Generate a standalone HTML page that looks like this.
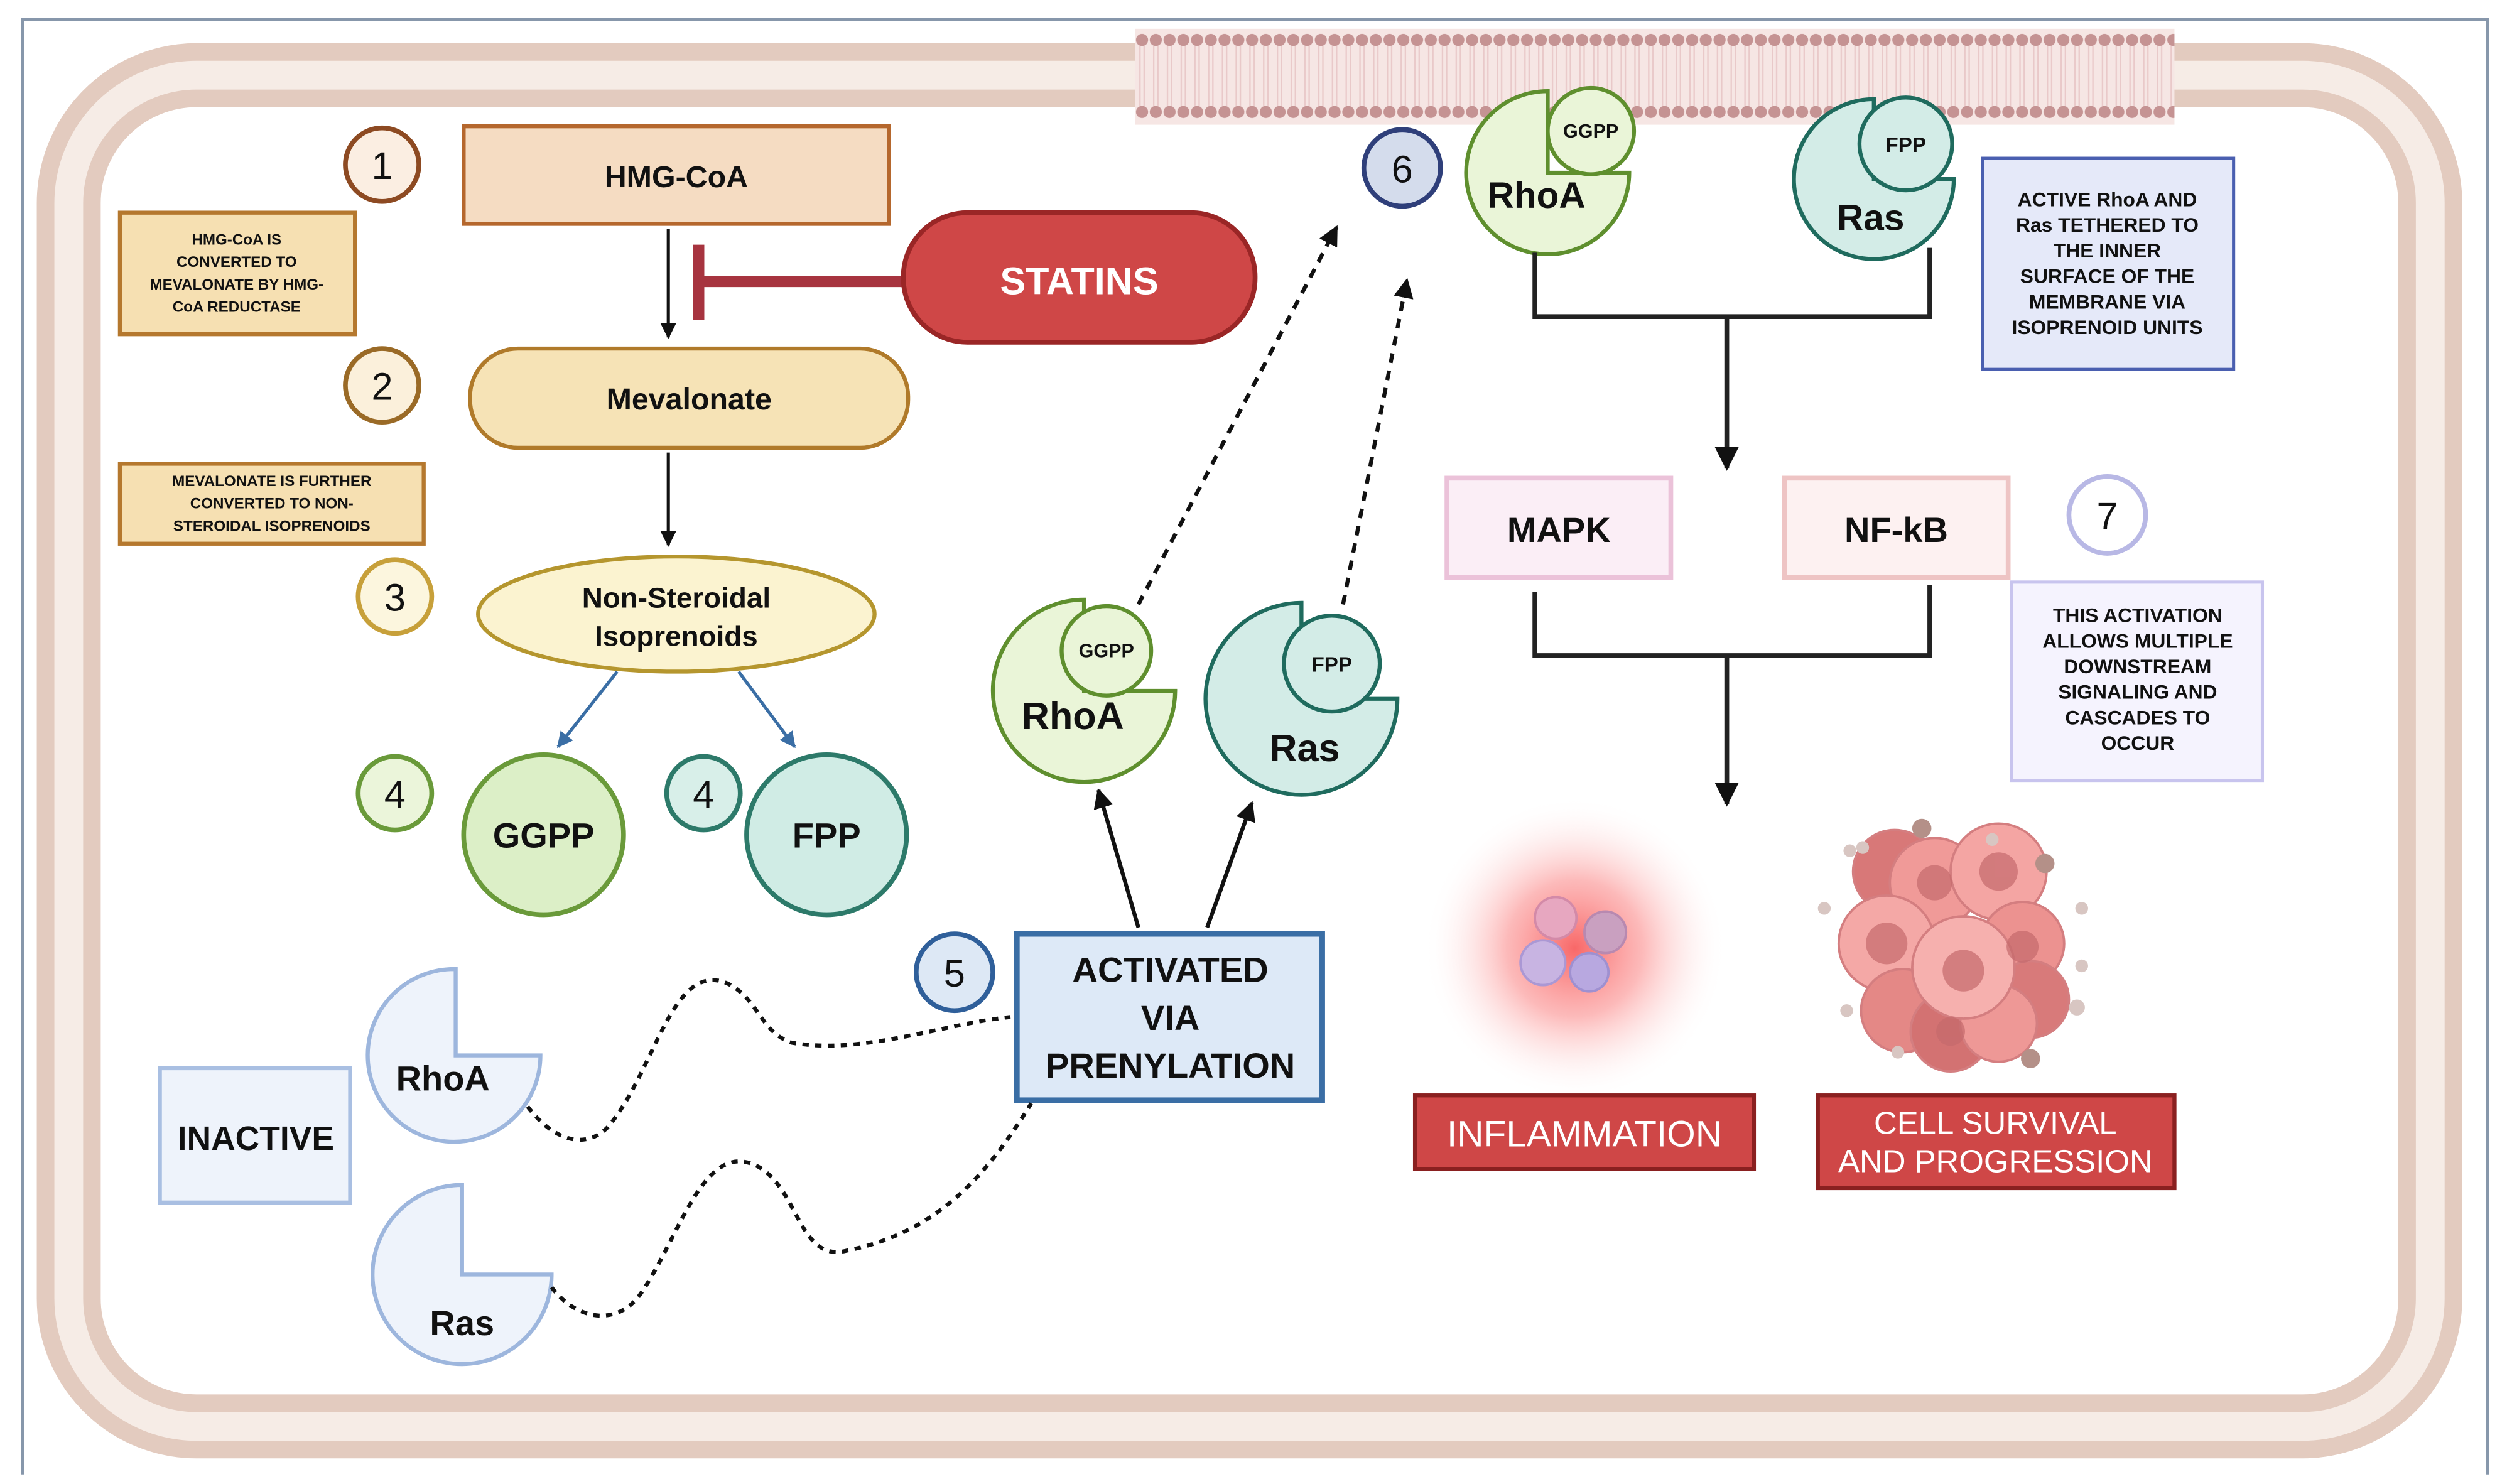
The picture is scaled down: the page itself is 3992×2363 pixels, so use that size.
<!DOCTYPE html>
<html><head><meta charset="utf-8"><style>
html,body{margin:0;padding:0;background:#fff}
svg{display:block}
text{font-family:"Liberation Sans",sans-serif;font-weight:bold;text-anchor:middle;fill:#111}
</style></head><body>
<svg width="3992" height="2363" viewBox="0 0 1568 928" preserveAspectRatio="none" xmlns="http://www.w3.org/2000/svg">
<defs>
<pattern id="dots" x="710" y="0" width="8.6" height="100" patternUnits="userSpaceOnUse">
<circle cx="4.3" cy="25" r="3.8" fill="#c59393"/>
<circle cx="4.3" cy="70" r="3.8" fill="#c59393"/>
<line x1="3" y1="29" x2="3" y2="66" stroke="#e9c9c9" stroke-width="0.9"/>
<line x1="5.6" y1="29" x2="5.6" y2="66" stroke="#e9c9c9" stroke-width="0.9"/>
</pattern>
<radialGradient id="glow" cx="50%" cy="50%" r="50%">
<stop offset="0" stop-color="#f86060" stop-opacity="0.95"/>
<stop offset="0.45" stop-color="#fb8c8c" stop-opacity="0.6"/>
<stop offset="1" stop-color="#fff" stop-opacity="0"/>
</radialGradient>
<marker id="ah" viewBox="0 0 10 10" refX="9" refY="5" markerWidth="5" markerHeight="5" orient="auto"><path d="M0,0 L10,5 L0,10 z" fill="#111"/></marker>
<marker id="ahb" viewBox="0 0 10 10" refX="9" refY="5" markerWidth="5" markerHeight="5" orient="auto"><path d="M0,0 L10,5 L0,10 z" fill="#3a6ea5"/></marker>
</defs>
<rect width="1568" height="928" fill="#fff"/>
<!-- frame -->
<path d="M14,922 L14,12 L1556,12 L1556,922" fill="none" stroke="#8797ab" stroke-width="2"/>
<!-- membrane -->
<rect x="43" y="47" width="1477" height="845" rx="80" fill="none" stroke="#e3cbbf" stroke-width="40"/>
<rect x="43" y="47" width="1477" height="845" rx="80" fill="none" stroke="#f6ece6" stroke-width="18"/>
<rect x="710" y="18" width="650" height="60" fill="#f6e6e4"/>
<rect x="710" y="0" width="650" height="80" fill="url(#dots)"/>

<!-- step 1 -->
<circle cx="239" cy="103" r="23" fill="#fbeee2" stroke="#8d4a22" stroke-width="3"/>
<text x="239" y="112" font-size="24" style="font-weight:normal">1</text>
<rect x="290" y="79" width="266" height="61" fill="#f5dcc2" stroke="#b5672d" stroke-width="2.5"/>
<text x="423" y="117" font-size="19">HMG-CoA</text>
<rect x="75" y="133" width="147" height="76" fill="#f6e0b2" stroke="#b5782e" stroke-width="2.5"/>
<text font-size="9.5"><tspan x="148" y="153">HMG-CoA IS</tspan><tspan x="148" y="167">CONVERTED TO</tspan><tspan x="148" y="181">MEVALONATE BY HMG-</tspan><tspan x="148" y="195">CoA REDUCTASE</tspan></text>
<line x1="418" y1="143" x2="418" y2="211" stroke="#111" stroke-width="2" marker-end="url(#ah)"/>
<line x1="437" y1="153" x2="437" y2="200" stroke="#a7343f" stroke-width="7"/>
<line x1="437" y1="176" x2="568" y2="176" stroke="#a7343f" stroke-width="7"/>
<rect x="565" y="133" width="220" height="81" rx="40" fill="#cf4747" stroke="#9a2626" stroke-width="3"/>
<text x="675" y="184" font-size="24" fill="#fff" style="fill:#fff">STATINS</text>

<!-- step 2 -->
<circle cx="239" cy="241" r="23" fill="#fbf0db" stroke="#9a6a26" stroke-width="3"/>
<text x="239" y="250" font-size="24" style="font-weight:normal">2</text>
<rect x="294" y="218" width="274" height="62" rx="30" fill="#f6e3b6" stroke="#b07a2a" stroke-width="2.5"/>
<text x="431" y="256" font-size="19">Mevalonate</text>
<rect x="75" y="290" width="190" height="50" fill="#f6e0b2" stroke="#b5782e" stroke-width="2.5"/>
<text font-size="9.5"><tspan x="170" y="304">MEVALONATE IS FURTHER</tspan><tspan x="170" y="318">CONVERTED TO NON-</tspan><tspan x="170" y="332">STEROIDAL ISOPRENOIDS</tspan></text>
<line x1="418" y1="283" x2="418" y2="341" stroke="#111" stroke-width="2" marker-end="url(#ah)"/>

<!-- step 3 -->
<circle cx="247" cy="373" r="23" fill="#fcf6de" stroke="#c7a03a" stroke-width="3"/>
<text x="247" y="382" font-size="24" style="font-weight:normal">3</text>
<ellipse cx="423" cy="384" rx="124" ry="36" fill="#fbf3d0" stroke="#b5962e" stroke-width="2.5"/>
<text font-size="18"><tspan x="423" y="380">Non-Steroidal</tspan><tspan x="423" y="404">Isoprenoids</tspan></text>
<line x1="386" y1="420" x2="349" y2="467" stroke="#3a6ea5" stroke-width="2" marker-end="url(#ahb)"/>
<line x1="462" y1="420" x2="497" y2="467" stroke="#3a6ea5" stroke-width="2" marker-end="url(#ahb)"/>

<!-- step 4 -->
<circle cx="247" cy="496" r="23" fill="#ebf5da" stroke="#6a9a3a" stroke-width="3"/>
<text x="247" y="505" font-size="24" style="font-weight:normal">4</text>
<circle cx="340" cy="522" r="50" fill="#dcefc7" stroke="#6a9a3a" stroke-width="3"/>
<text x="340" y="530" font-size="22">GGPP</text>
<circle cx="440" cy="496" r="23" fill="#d8efe9" stroke="#2d7a6a" stroke-width="3"/>
<text x="440" y="505" font-size="24" style="font-weight:normal">4</text>
<circle cx="517" cy="522" r="50" fill="#d0ece5" stroke="#2d7a6a" stroke-width="3"/>
<text x="517" y="530" font-size="22">FPP</text>

<!-- middle active proteins -->
<path d="M678,432 L678,375 A57,57 0 1,0 735,432 Z" fill="#eaf5d8" stroke="#5f8f2e" stroke-width="2.5"/>
<circle cx="692" cy="407" r="28" fill="#eaf5d8" stroke="#5f8f2e" stroke-width="2.5"/>
<text x="692" y="411" font-size="12">GGPP</text>
<text x="671" y="456" font-size="24">RhoA</text>
<path d="M814,437 L814,377 A60,60 0 1,0 874,437 Z" fill="#d3ece7" stroke="#1f6b5e" stroke-width="2.5"/>
<circle cx="833" cy="415" r="30" fill="#d3ece7" stroke="#1f6b5e" stroke-width="2.5"/>
<text x="833" y="420" font-size="13">FPP</text>
<text x="816" y="476" font-size="24">Ras</text>
<path d="M712,378 L836,142" stroke="#111" stroke-width="2.5" stroke-dasharray="6,5" fill="none" marker-end="url(#ah)"/>
<path d="M840,378 L880,175" stroke="#111" stroke-width="2.5" stroke-dasharray="6,5" fill="none" marker-end="url(#ah)"/>

<!-- step 5 -->
<circle cx="597" cy="608" r="24" fill="#dde8f5" stroke="#2f5f9a" stroke-width="3"/>
<text x="597" y="617" font-size="24" style="font-weight:normal">5</text>
<rect x="636" y="584" width="191" height="104" fill="#dde9f7" stroke="#3a6ea5" stroke-width="3.5"/>
<text font-size="22"><tspan x="732" y="614">ACTIVATED</tspan><tspan x="732" y="644">VIA</tspan><tspan x="732" y="674">PRENYLATION</tspan></text>
<line x1="712" y1="580" x2="687" y2="494" stroke="#111" stroke-width="2.5" marker-end="url(#ah)"/>
<line x1="755" y1="580" x2="783" y2="502" stroke="#111" stroke-width="2.5" marker-end="url(#ah)"/>

<!-- inactive -->
<rect x="100" y="668" width="119" height="84" fill="#eef3fb" stroke="#a9bfe2" stroke-width="2.5"/>
<text x="160" y="719" font-size="21">INACTIVE</text>
<path d="M285,660 L285,606 A54,54 0 1,0 338,660 Z" fill="#eef3fb" stroke="#9db6dd" stroke-width="2.5"/>
<text x="277" y="682" font-size="22">RhoA</text>
<path d="M289,797 L289,741 A56,56 0 1,0 345,797 Z" fill="#eef3fb" stroke="#9db6dd" stroke-width="2.5"/>
<text x="289" y="835" font-size="22">Ras</text>
<path d="M330,692 C345,712 365,720 380,705 C410,670 420,600 455,615 C475,625 475,645 495,652 C540,660 590,640 632,636" fill="none" stroke="#111" stroke-width="2.5" stroke-dasharray="4,4"/>
<path d="M345,805 C360,825 385,830 400,810 C425,775 440,710 475,730 C500,745 500,790 530,782 C590,770 620,730 645,690" fill="none" stroke="#111" stroke-width="2.5" stroke-dasharray="4,4"/>

<!-- step 6 top proteins -->
<circle cx="877" cy="105" r="24" fill="#d4dcec" stroke="#2f3f7a" stroke-width="3"/>
<text x="877" y="114" font-size="24" style="font-weight:normal">6</text>
<path d="M968,108 L968,57 A51,51 0 1,0 1019,108 Z" fill="#eaf5d8" stroke="#5f8f2e" stroke-width="2.5"/>
<circle cx="995" cy="82" r="27" fill="#eaf5d8" stroke="#5f8f2e" stroke-width="2.5"/>
<text x="995" y="86" font-size="12">GGPP</text>
<text x="961" y="130" font-size="23">RhoA</text>
<path d="M1172,112 L1172,62 A50,50 0 1,0 1222,112 Z" fill="#d3ece7" stroke="#1f6b5e" stroke-width="2.5"/>
<circle cx="1192" cy="90" r="29" fill="#d3ece7" stroke="#1f6b5e" stroke-width="2.5"/>
<text x="1192" y="95" font-size="13">FPP</text>
<text x="1170" y="144" font-size="23">Ras</text>
<path d="M960,158 L960,198 L1207,198 L1207,155" fill="none" stroke="#222" stroke-width="3"/>
<line x1="1080" y1="198" x2="1080" y2="293" stroke="#222" stroke-width="3" marker-end="url(#ah)"/>
<rect x="1240" y="99" width="157" height="132" fill="#e5e9f9" stroke="#4a5fb0" stroke-width="2"/>
<text font-size="12.5"><tspan x="1318" y="129">ACTIVE RhoA AND</tspan><tspan x="1318" y="145">Ras TETHERED TO</tspan><tspan x="1318" y="161">THE INNER</tspan><tspan x="1318" y="177">SURFACE OF THE</tspan><tspan x="1318" y="193">MEMBRANE VIA</tspan><tspan x="1318" y="209">ISOPRENOID UNITS</tspan></text>

<!-- step 7 -->
<rect x="905" y="299" width="140" height="62" fill="#fbeef6" stroke="#ebc2d9" stroke-width="3"/>
<text x="975" y="339" font-size="22">MAPK</text>
<rect x="1116" y="299" width="140" height="62" fill="#fdf1f1" stroke="#eec4c4" stroke-width="3"/>
<text x="1186" y="339" font-size="22">NF-kB</text>
<circle cx="1318" cy="322" r="24" fill="#fff" stroke="#b8b8e5" stroke-width="3"/>
<text x="1318" y="331" font-size="24" style="font-weight:normal">7</text>
<rect x="1258" y="364" width="157" height="124" fill="#f5f3fe" stroke="#c8c4ee" stroke-width="2"/>
<text font-size="12.5"><tspan x="1337" y="389">THIS ACTIVATION</tspan><tspan x="1337" y="405">ALLOWS MULTIPLE</tspan><tspan x="1337" y="421">DOWNSTREAM</tspan><tspan x="1337" y="437">SIGNALING AND</tspan><tspan x="1337" y="453">CASCADES TO</tspan><tspan x="1337" y="469">OCCUR</tspan></text>
<path d="M960,370 L960,410 L1207,410 L1207,366" fill="none" stroke="#222" stroke-width="3"/>
<line x1="1080" y1="410" x2="1080" y2="503" stroke="#222" stroke-width="3" marker-end="url(#ah)"/>

<!-- inflammation -->
<ellipse cx="985" cy="593" rx="95" ry="95" fill="url(#glow)"/>
<circle cx="973" cy="574" r="13" fill="#e7a7c0" stroke="#d38aa8" stroke-width="1.5"/>
<circle cx="1004" cy="583" r="13" fill="#c9a0c0" stroke="#b889b0" stroke-width="1.5"/>
<circle cx="965" cy="602" r="14" fill="#c8b4e2" stroke="#ab98d4" stroke-width="1.5"/>
<circle cx="994" cy="608" r="12" fill="#b8a8e0" stroke="#9f90d0" stroke-width="1.5"/>
<rect x="885" y="685" width="212" height="46" fill="#cf4747" stroke="#8a2020" stroke-width="2.5"/>
<text x="991" y="717" font-size="23" style="fill:#fff;font-weight:normal">INFLAMMATION</text>

<!-- cancer cluster -->
<g stroke="#d47e80" stroke-width="1.5">
<circle cx="1185" cy="545" r="26" fill="#d87878"/>
<circle cx="1210" cy="552" r="28" fill="#f09a98"/>
<circle cx="1250" cy="545" r="30" fill="#f4a5a3"/>
<circle cx="1265" cy="590" r="26" fill="#ec9290"/>
<circle cx="1180" cy="590" r="30" fill="#f4a8a6"/>
<circle cx="1190" cy="632" r="26" fill="#e48886"/>
<circle cx="1270" cy="625" r="24" fill="#d87a7a"/>
<circle cx="1220" cy="645" r="25" fill="#d37272"/>
<circle cx="1250" cy="640" r="24" fill="#ee9896"/>
<circle cx="1228" cy="605" r="32" fill="#f6b0ae"/>
</g>
<g fill="#c56a6c" opacity="0.7">
<circle cx="1250" cy="545" r="12"/><circle cx="1180" cy="590" r="13"/><circle cx="1228" cy="607" r="13"/><circle cx="1210" cy="552" r="11"/><circle cx="1265" cy="592" r="10"/><circle cx="1220" cy="645" r="9"/>
</g>
<g fill="#b49088"><circle cx="1202" cy="518" r="6"/><circle cx="1279" cy="540" r="6"/><circle cx="1270" cy="662" r="6"/></g>
<g fill="#d8c6c2"><circle cx="1157" cy="532" r="4"/><circle cx="1165" cy="530" r="4"/><circle cx="1246" cy="525" r="4"/><circle cx="1141" cy="568" r="4"/><circle cx="1302" cy="568" r="4"/><circle cx="1302" cy="604" r="4"/><circle cx="1299" cy="630" r="5"/><circle cx="1155" cy="632" r="4"/><circle cx="1187" cy="658" r="4"/></g>
<rect x="1137" y="685" width="223" height="58" fill="#cf4747" stroke="#8a2020" stroke-width="2.5"/>
<text font-size="20" style="fill:#fff;font-weight:normal"><tspan x="1248" y="709">CELL SURVIVAL</tspan><tspan x="1248" y="733">AND PROGRESSION</tspan></text>
</svg>
</body></html>
